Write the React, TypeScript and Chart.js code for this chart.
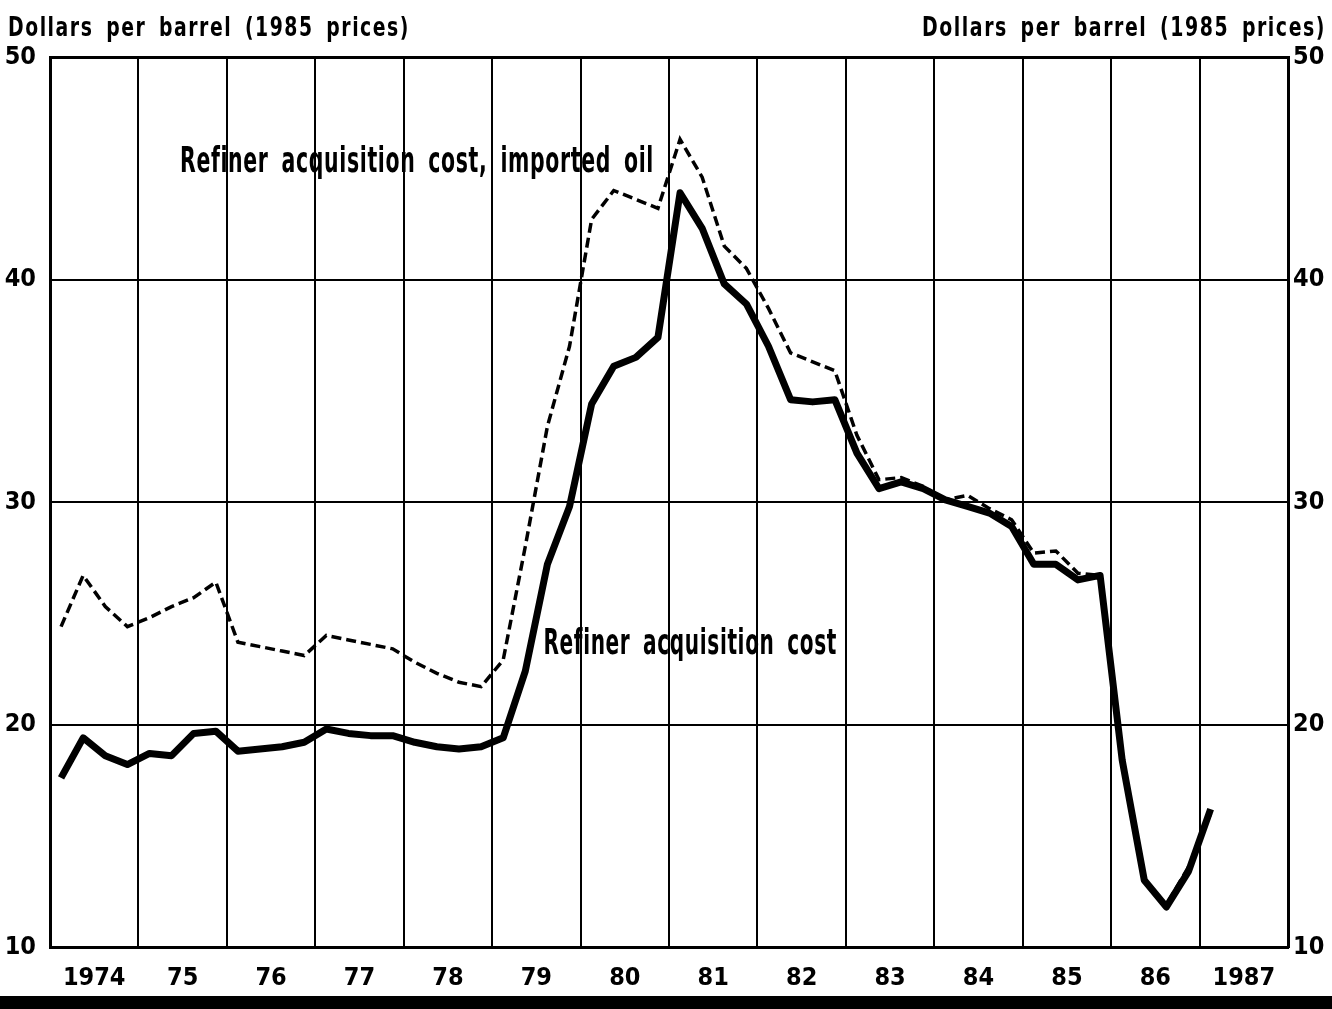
import React, { useEffect, useRef } from "react";
import { Chart, registerables } from "chart.js";

Chart.register(...registerables);

const FONT = "'Liberation Sans Narrow', 'DejaVu Sans Condensed', sans-serif";

const yearLabels = ["1974", "75", "76", "77", "78", "79", "80", "81", "82", "83", "84", "85", "86", "1987"];

const quarterLabels = [
  "1974Q1", "1974Q2", "1974Q3", "1974Q4",
  "1975Q1", "1975Q2", "1975Q3", "1975Q4",
  "1976Q1", "1976Q2", "1976Q3", "1976Q4",
  "1977Q1", "1977Q2", "1977Q3", "1977Q4",
  "1978Q1", "1978Q2", "1978Q3", "1978Q4",
  "1979Q1", "1979Q2", "1979Q3", "1979Q4",
  "1980Q1", "1980Q2", "1980Q3", "1980Q4",
  "1981Q1", "1981Q2", "1981Q3", "1981Q4",
  "1982Q1", "1982Q2", "1982Q3", "1982Q4",
  "1983Q1", "1983Q2", "1983Q3", "1983Q4",
  "1984Q1", "1984Q2", "1984Q3", "1984Q4",
  "1985Q1", "1985Q2", "1985Q3", "1985Q4",
  "1986Q1", "1986Q2", "1986Q3", "1986Q4",
  "1987Q1",
];

const refinerCost = [
  17.6, 19.4, 18.6, 18.2,
  18.7, 18.6, 19.6, 19.7,
  18.8, 18.9, 19.0, 19.2,
  19.8, 19.6, 19.5, 19.5,
  19.2, 19.0, 18.9, 19.0,
  19.4, 22.4, 27.2, 29.8,
  34.4, 36.1, 36.5, 37.4,
  43.9, 42.3, 39.8, 38.9,
  37.0, 34.6, 34.5, 34.6,
  32.2, 30.6, 30.9, 30.6,
  30.1, 29.8, 29.5, 28.9,
  27.2, 27.2, 26.5, 26.7,
  18.4, 13.0, 11.8, 13.4,
  16.2,
];

const importedCost = [
  24.4, 26.7, 25.3, 24.4,
  24.8, 25.3, 25.7, 26.4,
  23.7, 23.5, 23.3, 23.1,
  24.0, 23.8, 23.6, 23.4,
  22.8, 22.3, 21.9, 21.7,
  22.9, 28.0, 33.4, 37.0,
  42.7, 44.0, 43.6, 43.2,
  46.3, 44.6, 41.5, 40.5,
  38.7, 36.7, 36.3, 35.9,
  33.0, 31.0, 31.1, 30.7,
  30.1, 30.3, 29.7, 29.2,
  27.7, 27.8, 26.8, 26.7,
  18.3, 12.9, 11.9, 13.6,
  16.0,
];

const yTicks = [10, 20, 30, 40, 50];

function toPoints(values: number[]) {
  return values.map((v, i) => {
    const lab = quarterLabels[i];
    const yr = parseInt(lab.slice(0, 4), 10);
    const q = parseInt(lab.slice(5), 10);
    return { x: yr + (q - 0.5) / 4, y: v };
  });
}

const textPlugin = {
  id: "texts",
  afterDraw(chart: any) {
    const ctx: CanvasRenderingContext2D = chart.ctx;
    const xs = chart.scales.x;
    const ys = chart.scales.y;
    ctx.save();
    ctx.fillStyle = "#000";
    const fit = (text: string, font: string, x0: number, x1: number, base: number, ls: number, ws: number) => {
      ctx.save();
      ctx.font = font;
      (ctx as any).letterSpacing = ls + "px";
      (ctx as any).wordSpacing = ws + "px";
      const w = ctx.measureText(text).width;
      const sx = (x1 - x0) / w;
      ctx.translate(x0, base);
      ctx.scale(sx, 1);
      ctx.textAlign = "left";
      ctx.textBaseline = "alphabetic";
      ctx.fillText(text, 0, 0);
      ctx.restore();
    };
    fit("Refiner acquisition cost, imported oil", `bold 35px ${FONT}`,
      xs.getPixelForValue(1975.47), xs.getPixelForValue(1980.83), ys.getPixelForValue(44.85), 1, 8);
    fit("Refiner acquisition cost", `bold 35px ${FONT}`,
      xs.getPixelForValue(1979.58), xs.getPixelForValue(1982.9), ys.getPixelForValue(23.15), 1, 8);
    fit("Dollars per barrel (1985 prices)", `bold 27px ${FONT}`, 8, 410, 36, 2, 6);
    fit("Dollars per barrel (1985 prices)", `bold 27px ${FONT}`, 922, 1326, 36, 2, 6);
    ctx.fillRect(0, 996, chart.width, chart.height - 996);
    ctx.restore();
  },
};

export default function App() {
  const ref = useRef<HTMLCanvasElement>(null);
  useEffect(() => {
    if (!ref.current) return;
    const tickFont = { family: FONT, size: 25, weight: "bold" };
    const chart = new Chart(ref.current, {
      type: "line",
      data: {
        datasets: [
          {
            label: "Refiner acquisition cost",
            data: toPoints(refinerCost),
            borderColor: "#000",
            borderWidth: 7,
            pointRadius: 0,
            tension: 0,
            borderJoinStyle: "round",
            xAxisID: "x",
            yAxisID: "y",
          },
          {
            label: "Refiner acquisition cost, imported oil",
            data: toPoints(importedCost),
            borderColor: "#000",
            borderWidth: 3.5,
            borderDash: [10, 5],
            pointRadius: 0,
            tension: 0,
            xAxisID: "x",
            yAxisID: "y",
          },
        ],
      },
      options: {
        animation: false,
        responsive: true,
        maintainAspectRatio: false,
        layout: { padding: { top: 57, left: 0, right: 0, bottom: 0 } },
        plugins: { legend: { display: false }, tooltip: { enabled: false } },
        scales: {
          x: {
            type: "linear",
            position: "bottom",
            min: 1974,
            max: 1988,
            ticks: { display: false, stepSize: 1 },
            grid: { color: "#000", lineWidth: 2, drawTicks: false },
            border: { display: true, color: "#000", width: 3 },
            afterFit: (s: any) => { s.height = 0; },
          },
          x2: {
            type: "category",
            position: "bottom",
            labels: yearLabels,
            offset: true,
            grid: { display: false, drawTicks: false },
            border: { display: false },
            ticks: { color: "#000", font: tickFont, padding: 16, maxRotation: 0, autoSkip: false },
            afterFit: (s: any) => { s.height = 62; },
          },
          y: {
            type: "linear",
            position: "left",
            min: 10,
            max: 50,
            afterBuildTicks: (s: any) => { s.ticks = yTicks.map((v) => ({ value: v })); },
            ticks: { color: "#000", font: tickFont, padding: 14 },
            grid: { color: "#000", lineWidth: (c: any) => (c.tick && c.tick.value === 50 ? 3 : 2), drawTicks: false },
            border: { display: true, color: "#000", width: 3 },
            afterFit: (s: any) => { s.width = 50; },
          },
          y2: {
            type: "linear",
            position: "right",
            min: 10,
            max: 50,
            afterBuildTicks: (s: any) => { s.ticks = yTicks.map((v) => ({ value: v })); },
            ticks: { color: "#000", font: tickFont, padding: 5 },
            grid: { display: false, drawTicks: false },
            border: { display: true, color: "#000", width: 3 },
            afterFit: (s: any) => { s.width = 44; },
          },
        },
      },
      plugins: [textPlugin],
    } as any);
    return () => chart.destroy();
  }, []);
  return (
    <div style={{ position: "fixed", left: 0, top: 0, width: 1332, height: 1009, background: "#fff" }}>
      <canvas ref={ref} />
    </div>
  );
}
